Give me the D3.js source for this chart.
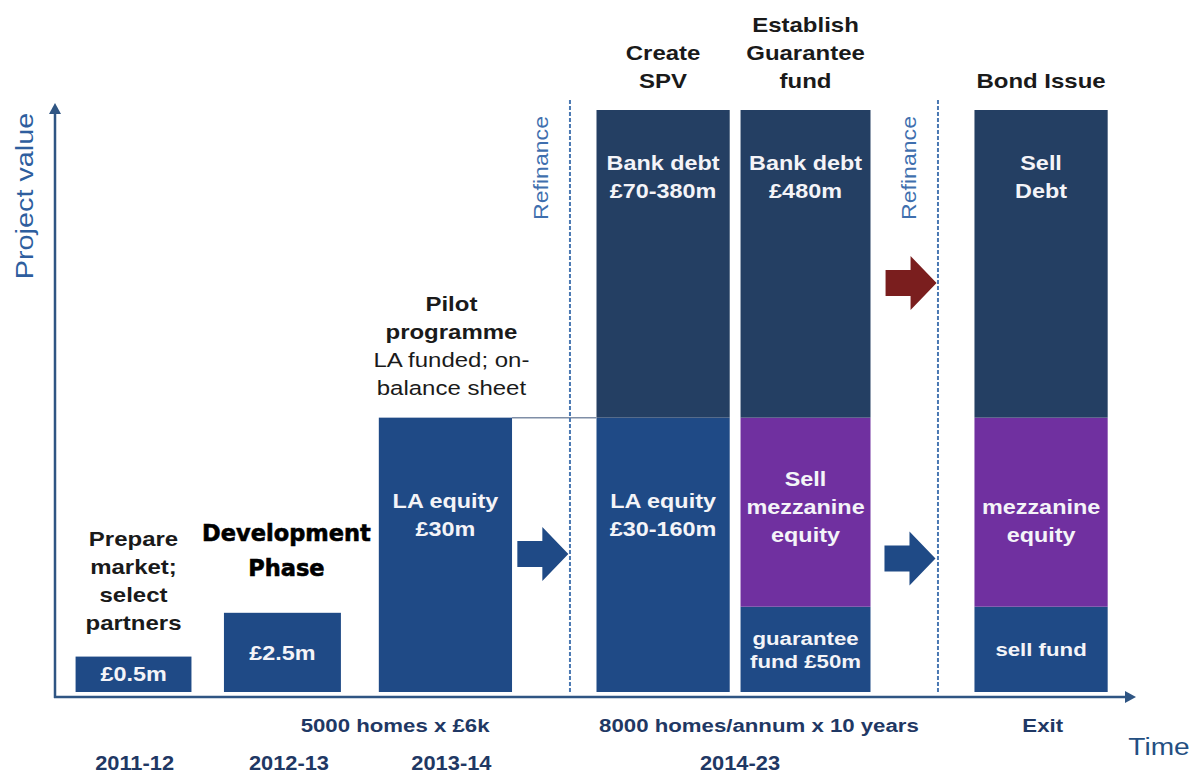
<!DOCTYPE html>
<html>
<head>
<meta charset="utf-8">
<script src="https://cdn.jsdelivr.net/npm/d3@7"></script>
<style>
  body { margin: 0; background: #ffffff; }
  svg { display: block; }
</style>
</head>
<body>
<svg id="chart" width="1199" height="776"></svg>
<script>
// ---- Timeline columns (abstract time units, 0–100 along the Time axis) ----
const columns     = ["prep", "dev", "pilot", "spv", "guarantee", "bond"];
const periodStart = [1.9, 15.6, 29.9, 50.0, 63.3, 84.9];
const periodEnd   = [12.6, 26.4, 42.2, 62.3, 75.3, 97.2];

// ---- Stacked funding segments: project value bounds in £m ----
const segColumn = ["prep", "dev", "pilot", "spv", "spv", "guarantee", "guarantee", "guarantee", "bond", "bond", "bond"];
const segFrom   = [0,   0,   0,  0,  30,  0,   2.9, 30,  0,   2.9, 30];
const segTo     = [0.5, 2.5, 30, 30, 135, 2.9, 30,  135, 2.9, 30,  135];
const segKind   = ["equity", "equity", "equity", "equity", "debt", "equity", "mezz", "debt", "equity", "mezz", "debt"];
const segLabels = [
  ["£0.5m"], ["£2.5m"], ["LA equity", "£30m"], ["LA equity", "£30-160m"],
  ["Bank debt", "£70-380m"], ["guarantee", "fund £50m"], ["Sell", "mezzanine", "equity"],
  ["Bank debt", "£480m"], ["sell fund"], ["mezzanine", "equity"], ["Sell", "Debt"]
];

// ---- Stage titles above each column ----
const stageTitles = [
  ["Prepare", "market;", "select", "partners"],
  ["Development", "Phase"],
  ["Pilot", "programme", "LA funded; on-", "balance sheet"],
  ["Create", "SPV"],
  ["Establish", "Guarantee", "fund"],
  ["Bond Issue"]
];

// ---- Refinance points, transition arrows (time, £m level) ----
const refinanceAt = [47.55, 81.53];
const arrowTipAt  = [47.4, 81.3, 81.4];
const arrowLevel  = [7.6, 7.1, 66.7];
const arrowKind   = ["blue", "blue", "red"];

// ---- Labels under the Time axis ----
const notes   = ["5000 homes x £6k", "8000 homes/annum x 10 years", "Exit"];
const noteAt  = [31.4, 65.0, 91.2];
const years   = ["2011-12", "2012-13", "2013-14", "2014-23"];
const yearAt  = [7.35, 21.6, 36.6, 63.25];

// ---------------------------------------------------------------------------
const svg = d3.select("#chart");
const x = d3.scaleLinear().domain([0, 100]).range([55, 1138]);
const y = d3.scaleSqrt().domain([0, 135]).range([692, 110]);
const AXIS_Y = 697;
const AXIS_X = x(0);

const colour = { equity: "#1F4A86", debt: "#243F63", mezz: "#7030A0" };
const arrowColour = { blue: "#1F4A86", red: "#7A1E1E" };
const SANS = "'Liberation Sans', Arial, Helvetica, sans-serif";
const STRETCH = 1.17;

const colIndex = c => columns.indexOf(c);
const colLeft  = c => x(periodStart[colIndex(c)]);
const colRight = c => x(periodEnd[colIndex(c)]);
const colMid   = c => (colLeft(c) + colRight(c)) / 2;

// Multi-line centred text block; baseline is that of the first line
function textBlock(parent, cx, baseline, lines, o) {
  const t = parent.append("text")
    .attr("transform", `translate(${cx},${baseline}) scale(${o.sx ?? STRETCH},1)`)
    .attr("text-anchor", "middle")
    .attr("font-family", o.family || SANS)
    .attr("font-size", o.size)
    .attr("font-weight", o.weight || "bold")
    .attr("fill", o.fill);
  if (o.stroke) t.attr("stroke", o.stroke).attr("stroke-width", o.strokeWidth);
  lines.forEach((l, i) => {
    const s = t.append("tspan").attr("x", 0).attr("y", i * o.lh).text(typeof l === "string" ? l : l.t);
    if (typeof l !== "string" && l.w) s.attr("font-weight", l.w);
  });
  return t;
}

// ---- Segments ----
const segs = segColumn.map((c, i) => ({
  col: c, from: segFrom[i], to: segTo[i], kind: segKind[i], lines: segLabels[i]
}));

svg.append("g").selectAll("rect").data(segs).join("rect")
  .attr("x", d => colLeft(d.col))
  .attr("width", d => colRight(d.col) - colLeft(d.col))
  .attr("y", d => y(d.to))
  .attr("height", d => y(d.from) - y(d.to))
  .attr("fill", d => colour[d.kind]);

// Connector from the pilot top to the SPV column
const pilotTop = y(segTo[segColumn.indexOf("pilot")]);
svg.append("line")
  .attr("x1", colRight("pilot")).attr("x2", colLeft("spv"))
  .attr("y1", pilotTop).attr("y2", pilotTop)
  .attr("stroke", "#7F8EA6").attr("stroke-width", 1.5);

// Segment labels
const segText = svg.append("g");
segs.forEach(d => {
  const top = y(d.to), bottom = y(d.from), h = bottom - top;
  const small = h < 100;
  const size = d.lines[0] === "guarantee" || d.lines[0] === "sell fund" ? 19 : 20;
  const lh = size === 19 ? 23 : 28;
  let first;
  if (d.kind === "debt") first = top + 60;
  else if (d.kind === "equity" && !small) first = top + 90;
  else if (d.kind === "mezz") first = bottom - 65 - (d.lines.length - 1) * lh;
  else first = (top + bottom) / 2 - (d.lines.length - 1) * lh / 2 + size * 0.36;
  textBlock(segText, colMid(d.col), first, d.lines, { size, lh, fill: "#F4F4F8" });
});

// ---- Refinance markers ----
const refi = svg.append("g");
refinanceAt.forEach(t => {
  refi.append("line")
    .attr("x1", x(t)).attr("x2", x(t)).attr("y1", 100).attr("y2", 692)
    .attr("stroke", "#4A78B2").attr("stroke-width", 2).attr("stroke-dasharray", "4,2");
  refi.append("text")
    .attr("transform", `translate(${x(t) - 22},168) rotate(-90) scale(1.1,1)`)
    .attr("text-anchor", "middle")
    .attr("font-family", SANS).attr("font-size", 21)
    .attr("fill", "#3F6FAE")
    .text("Refinance");
});

// ---- Block arrows ----
const arrowPath = (tx, ty) =>
  `M${tx - 51},${ty - 13} L${tx - 26},${ty - 13} L${tx - 26},${ty - 27} L${tx},${ty} ` +
  `L${tx - 26},${ty + 27} L${tx - 26},${ty + 13} L${tx - 51},${ty + 13} Z`;
svg.append("g").selectAll("path").data(arrowTipAt.map((t, i) => ({ t, v: arrowLevel[i], k: arrowKind[i] })))
  .join("path")
  .attr("d", d => arrowPath(x(d.t), y(d.v)))
  .attr("fill", d => arrowColour[d.k]);

// ---- Stage titles ----
const titles = svg.append("g");
columns.forEach((c, i) => {
  const lines = stageTitles[i];
  const top = y(d3.max(segs.filter(s => s.col === c), s => s.to));
  if (c === "dev") {
    textBlock(titles, colMid(c) + 4, top - 37 - 35, lines,
      { size: 22.5, lh: 35, sx: 1, family: "'DejaVu Sans', sans-serif", fill: "#000000",
        stroke: "#000000", strokeWidth: 0.6 });
  } else if (c === "pilot") {
    const ls = [{ t: lines[0] }, { t: lines[1] }, { t: lines[2], w: "normal" }, { t: lines[3], w: "normal" }];
    textBlock(titles, colMid(c) + 6, top - 23 - 3 * 28, ls, { size: 20.5, lh: 28, fill: "#1A1A1A" });
  } else {
    const gap = c === "prep" ? 27 : 22;
    textBlock(titles, colMid(c), top - gap - (lines.length - 1) * 28, lines,
      { size: 20.5, lh: 28, fill: "#1A1A1A" });
  }
});

// ---- Axes ----
const axes = svg.append("g").attr("stroke", "#2F5583").attr("fill", "#2F5583");
axes.append("line").attr("x1", AXIS_X).attr("x2", AXIS_X).attr("y1", AXIS_Y + 1).attr("y2", 112)
  .attr("stroke-width", 2.5);
axes.append("path").attr("stroke", "none")
  .attr("d", `M${AXIS_X - 6},114 L${AXIS_X},103 L${AXIS_X + 6},114 Z`);
axes.append("line").attr("x1", AXIS_X - 1).attr("x2", 1127).attr("y1", AXIS_Y).attr("y2", AXIS_Y)
  .attr("stroke-width", 2.5);
axes.append("path").attr("stroke", "none")
  .attr("d", `M1125,${AXIS_Y - 6} L1136,${AXIS_Y} L1125,${AXIS_Y + 6} Z`);

svg.append("text")
  .attr("transform", `translate(33,196) rotate(-90) scale(1.2,1)`)
  .attr("text-anchor", "middle")
  .attr("font-family", SANS).attr("font-size", 24)
  .attr("fill", "#2E5E9E")
  .text("Project value");

svg.append("text")
  .attr("transform", `translate(1159,755) scale(1.17,1)`)
  .attr("text-anchor", "middle")
  .attr("font-family", SANS).attr("font-size", 24)
  .attr("fill", "#244F82")
  .text("Time");

// ---- Notes and years under the axis ----
const under = svg.append("g");
notes.forEach((n, i) => textBlock(under, x(noteAt[i]), 732, [n], { size: 19, lh: 0, fill: "#1F3864" }));
years.forEach((yr, i) => textBlock(under, x(yearAt[i]), 770, [yr], { size: 21, lh: 0, sx: 1.04, fill: "#1F3864" }));
</script>
</body>
</html>
